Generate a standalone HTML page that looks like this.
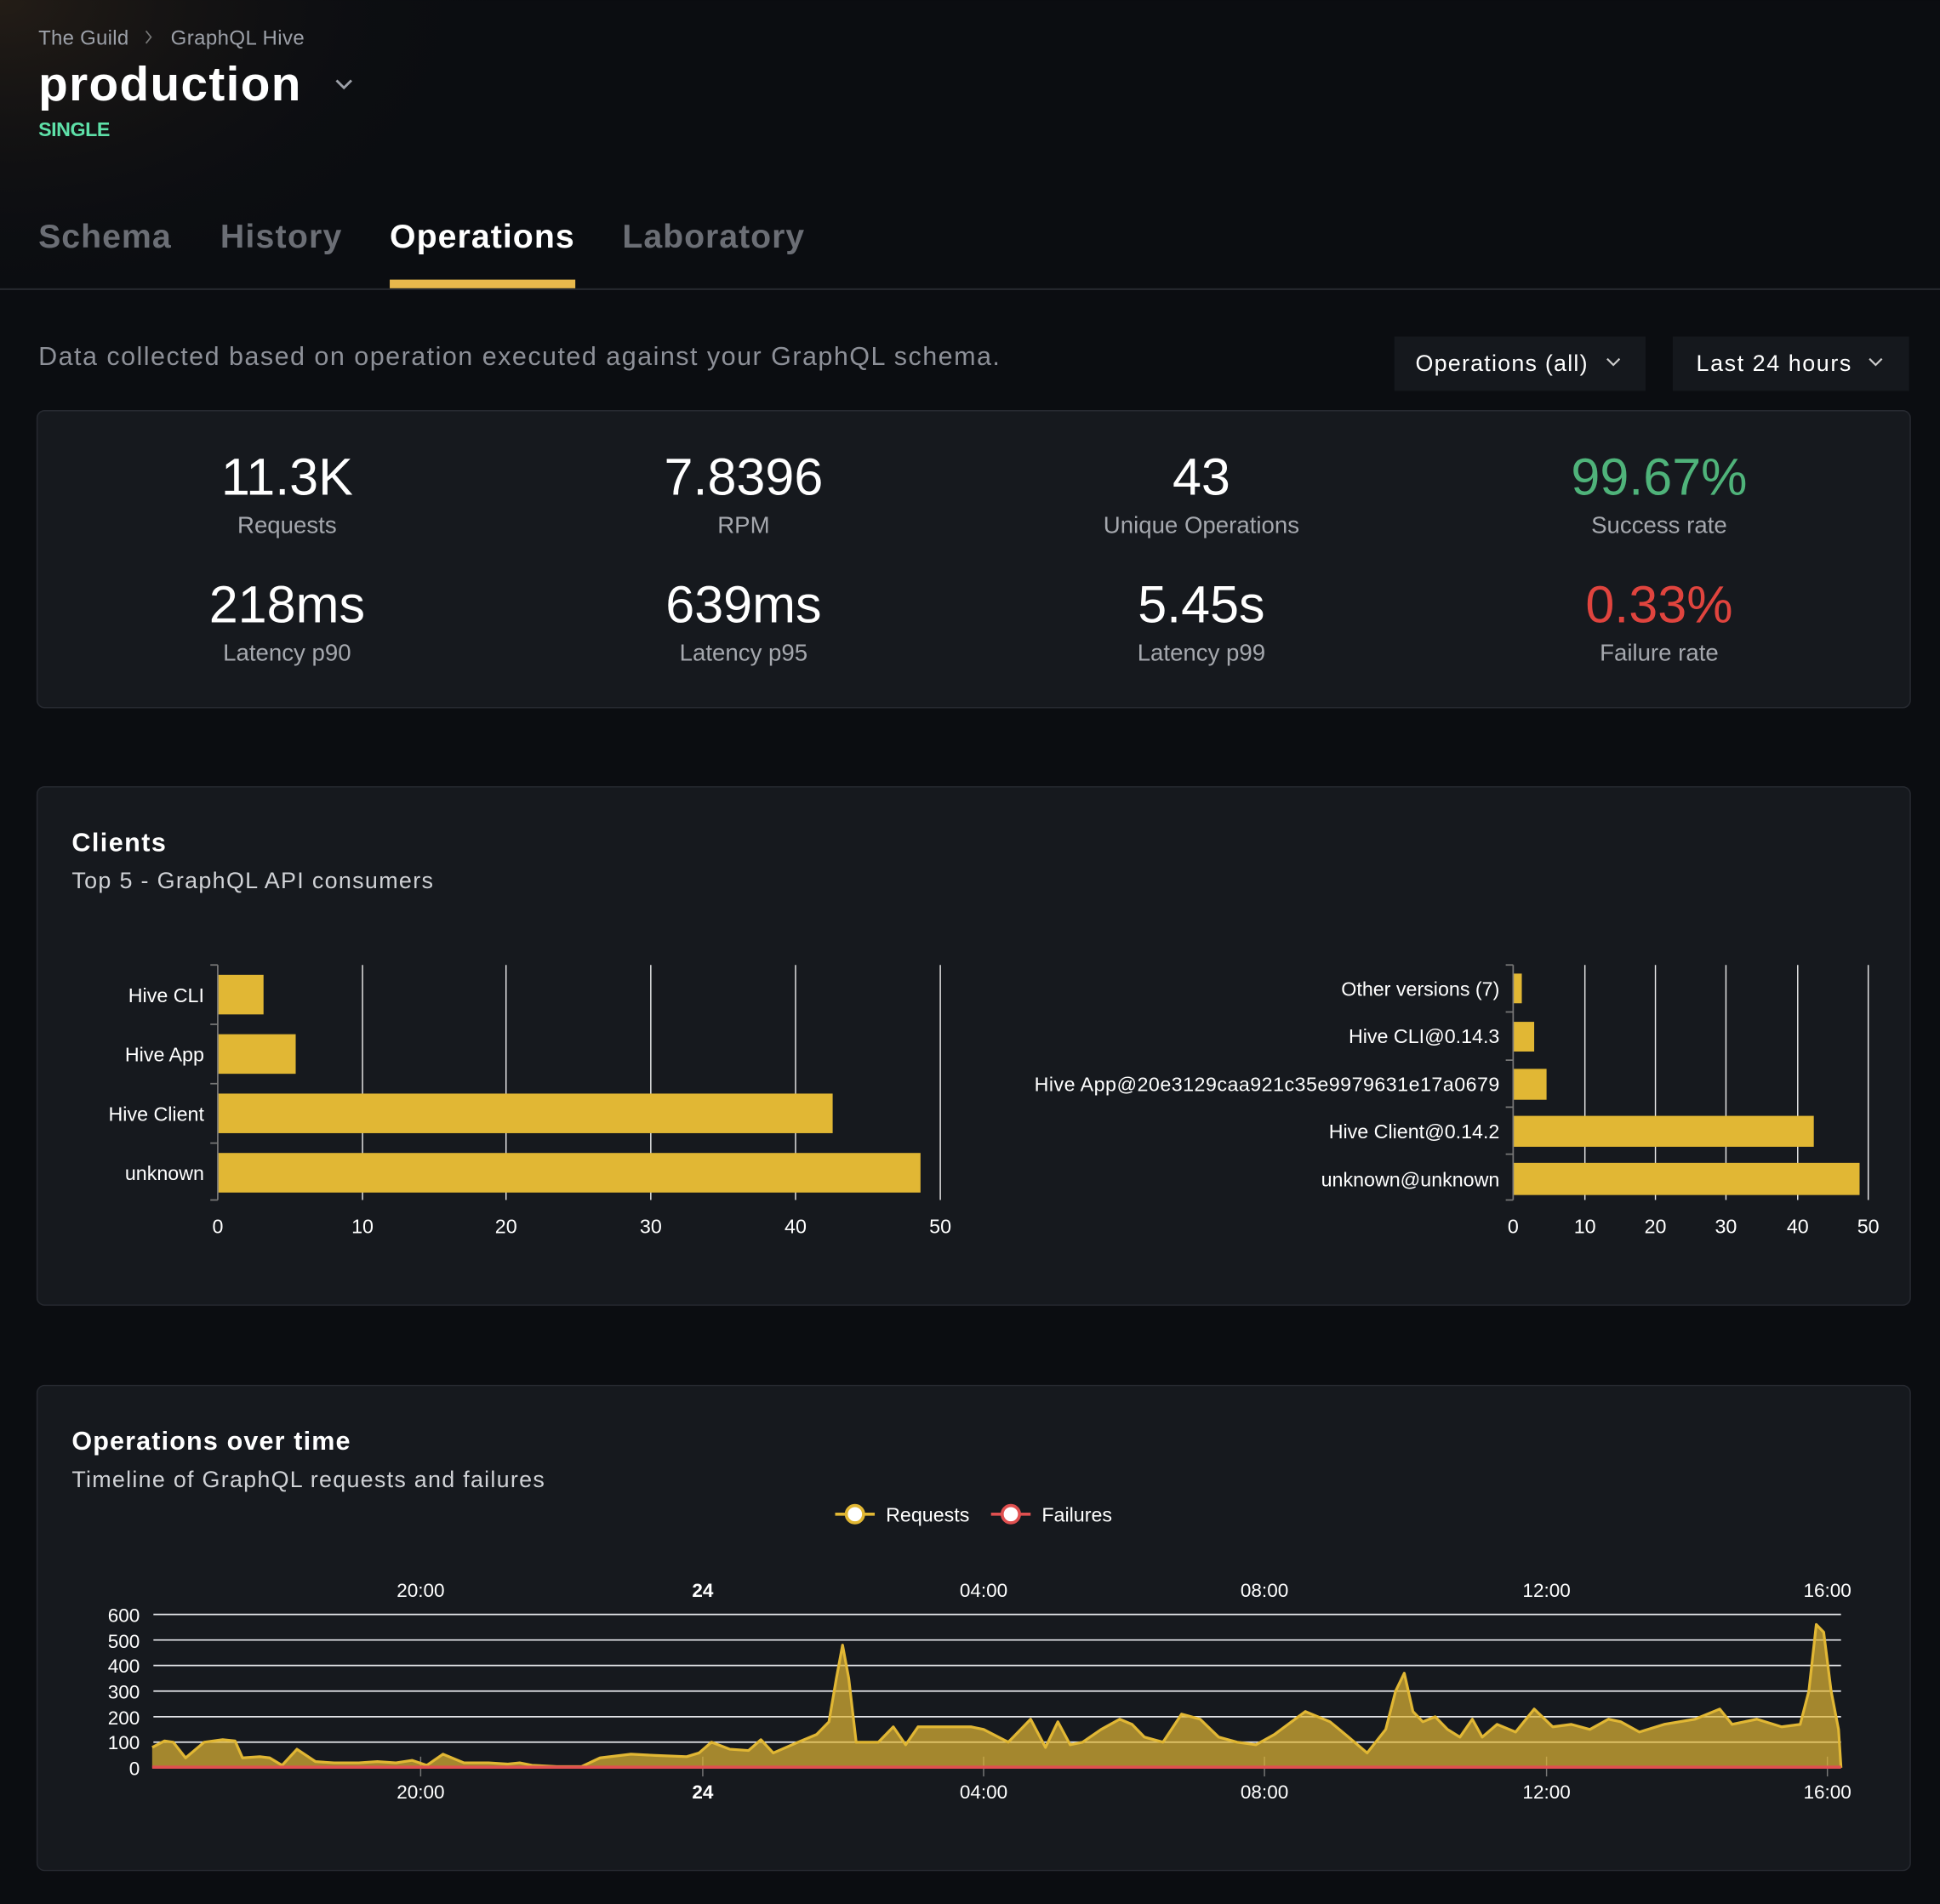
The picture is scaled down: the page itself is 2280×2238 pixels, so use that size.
<!DOCTYPE html>
<html><head><meta charset="utf-8"><style>
html,body{margin:0;padding:0;background:#0b0d11;}
svg{display:block;font-family:"Liberation Sans",sans-serif;}
</style></head><body>
<svg width="2280" height="2238" viewBox="0 0 1568 1539.1" xmlns="http://www.w3.org/2000/svg">
<defs>
<radialGradient id="glow" cx="0" cy="0" r="1">
<stop offset="0" stop-color="#2a2118" stop-opacity="0.8"/>
<stop offset="1" stop-color="#0b0d11" stop-opacity="0"/>
</radialGradient>
</defs>
<rect width="1568" height="1540" fill="#0b0d11"/>
<rect width="400" height="250" fill="url(#glow)"/>
<text x="31" y="36" font-size="16.5" fill="#9ca0a8" textLength="73">The Guild</text>
<path d="M118 25 l4 5 -4 5" stroke="#777" fill="none" stroke-width="1.2"/>
<text x="138" y="36" font-size="16.5" fill="#9ca0a8" textLength="108">GraphQL Hive</text>
<text x="31" y="81" font-size="39" font-weight="bold" fill="#fff" textLength="212">production</text>
<path d="M272 65 l6 6 6 -6" stroke="#9ca0a8" fill="none" stroke-width="2"/>
<text x="31" y="110" font-size="16" font-weight="bold" fill="#5ee0a8" textLength="58">SINGLE</text>
<text x="31" y="200" font-size="27" font-weight="bold" fill="#6b6e75" textLength="107">Schema</text>
<text x="178" y="200" font-size="27" font-weight="bold" fill="#6b6e75" textLength="98">History</text>
<text x="315" y="200" font-size="27" font-weight="bold" fill="#fff" textLength="149">Operations</text>
<text x="503" y="200" font-size="27" font-weight="bold" fill="#6b6e75" textLength="147">Laboratory</text>
<rect x="0" y="233" width="1568" height="1.5" fill="#24272d"/>
<rect x="315" y="226" width="150" height="7" fill="#e8b84c"/>
<text x="31" y="295" font-size="21" fill="#8d9098" textLength="777">Data collected based on operation executed against your GraphQL schema.</text>
<rect x="1127" y="272" width="203" height="44" fill="#15181d"/>
<text x="1144" y="300" font-size="18.5" fill="#fff" textLength="139">Operations (all)</text>
<path d="M1299 290 l5 5 5 -5" stroke="#ccc" fill="none" stroke-width="1.5"/>
<rect x="1352" y="272" width="191" height="44" fill="#15181d"/>
<text x="1371" y="300" font-size="18.5" fill="#fff" textLength="125">Last 24 hours</text>
<path d="M1511 290 l5 5 5 -5" stroke="#ccc" fill="none" stroke-width="1.5"/>

<rect x="30" y="332" width="1514" height="240" rx="6" fill="#16191e" stroke="#272a31"/>
<g text-anchor="middle">
<text x="232" y="400" font-size="42" fill="#fff">11.3K</text>
<text x="232" y="431" font-size="19" fill="#a5a8ae">Requests</text>
<text x="601" y="400" font-size="42" fill="#fff">7.8396</text>
<text x="601" y="431" font-size="19" fill="#a5a8ae">RPM</text>
<text x="971" y="400" font-size="42" fill="#fff">43</text>
<text x="971" y="431" font-size="19" fill="#a5a8ae">Unique Operations</text>
<text x="1341" y="400" font-size="42" fill="#4fb37a">99.67%</text>
<text x="1341" y="431" font-size="19" fill="#a5a8ae">Success rate</text>
<text x="232" y="503" font-size="42" fill="#fff">218ms</text>
<text x="232" y="534" font-size="19" fill="#a5a8ae">Latency p90</text>
<text x="601" y="503" font-size="42" fill="#fff">639ms</text>
<text x="601" y="534" font-size="19" fill="#a5a8ae">Latency p95</text>
<text x="971" y="503" font-size="42" fill="#fff">5.45s</text>
<text x="971" y="534" font-size="19" fill="#a5a8ae">Latency p99</text>
<text x="1341" y="503" font-size="42" fill="#e0443e">0.33%</text>
<text x="1341" y="534" font-size="19" fill="#a5a8ae">Failure rate</text>
</g>

<rect x="30" y="636" width="1514" height="419" rx="6" fill="#16191e" stroke="#272a31"/>
<text x="58" y="688" font-size="21" font-weight="bold" fill="#fff" textLength="76">Clients</text>
<text x="58" y="718" font-size="18.5" fill="#d0d2d6" textLength="292">Top 5 - GraphQL API consumers</text>
<g stroke="#e8e8e8" stroke-width="1">
<line x1="293" y1="780" x2="293" y2="970"/><line x1="409" y1="780" x2="409" y2="970"/>
<line x1="526" y1="780" x2="526" y2="970"/><line x1="643" y1="780" x2="643" y2="970"/>
<line x1="760" y1="780" x2="760" y2="970"/>
</g>
<g fill="#e1b734">
<rect x="176" y="788" width="37" height="32"/>
<rect x="176" y="836" width="63" height="32"/>
<rect x="176" y="884" width="497" height="32"/>
<rect x="176" y="932" width="568" height="32"/>
</g>
<path d="M176 780 V970 M170 780 H176 M170 828 H176 M170 876 H176 M170 924 H176 M170 970 H176" stroke="#777" stroke-width="1.2" fill="none"/>
<g font-size="16" fill="#fff" text-anchor="end">
<text x="165" y="810">Hive CLI</text><text x="165" y="858">Hive App</text>
<text x="165" y="906">Hive Client</text><text x="165" y="954">unknown</text>
</g>
<g font-size="16" fill="#fff" text-anchor="middle">
<text x="176" y="997">0</text><text x="293" y="997">10</text><text x="409" y="997">20</text>
<text x="526" y="997">30</text><text x="643" y="997">40</text><text x="760" y="997">50</text>
</g>
<g stroke="#e8e8e8" stroke-width="1">
<line x1="1281" y1="780" x2="1281" y2="970"/><line x1="1338" y1="780" x2="1338" y2="970"/>
<line x1="1395" y1="780" x2="1395" y2="970"/><line x1="1453" y1="780" x2="1453" y2="970"/>
<line x1="1510" y1="780" x2="1510" y2="970"/>
</g>
<g fill="#e1b734">
<rect x="1223" y="787" width="7" height="24"/>
<rect x="1223" y="826" width="17" height="24"/>
<rect x="1223" y="864" width="27" height="25"/>
<rect x="1223" y="902" width="243" height="25"/>
<rect x="1223" y="940" width="280" height="26"/>
</g>
<path d="M1223 780 V970 M1217 780 H1223 M1217 818 H1223 M1217 857 H1223 M1217 895 H1223 M1217 933 H1223 M1217 970 H1223" stroke="#777" stroke-width="1.2" fill="none"/>
<g font-size="16" fill="#fff" text-anchor="end">
<text x="1212" y="805">Other versions (7)</text><text x="1212" y="843">Hive CLI@0.14.3</text>
<text x="1212" y="882" textLength="376">Hive App@20e3129caa921c35e9979631e17a0679</text>
<text x="1212" y="920">Hive Client@0.14.2</text><text x="1212" y="959">unknown@unknown</text>
</g>
<g font-size="16" fill="#fff" text-anchor="middle">
<text x="1223" y="997">0</text><text x="1281" y="997">10</text><text x="1338" y="997">20</text>
<text x="1395" y="997">30</text><text x="1453" y="997">40</text><text x="1510" y="997">50</text>
</g>

<rect x="30" y="1120" width="1514" height="392" rx="6" fill="#16191e" stroke="#272a31"/>
<text x="58" y="1172" font-size="21" font-weight="bold" fill="#fff" textLength="225">Operations over time</text>
<text x="58" y="1202" font-size="18.5" fill="#d0d2d6" textLength="382">Timeline of GraphQL requests and failures</text>
<line x1="675" y1="1224" x2="707" y2="1224" stroke="#e1b734" stroke-width="2.5"/>
<circle cx="691" cy="1224" r="7" fill="#fff" stroke="#e1b734" stroke-width="2.5"/>
<text x="716" y="1230" font-size="16" fill="#fff">Requests</text>
<line x1="801" y1="1224" x2="833" y2="1224" stroke="#e05050" stroke-width="2.5"/>
<circle cx="817" cy="1224" r="7" fill="#fff" stroke="#e05050" stroke-width="2.5"/>
<text x="842" y="1230" font-size="16" fill="#fff">Failures</text>
<g font-size="15.5" fill="#fff" text-anchor="middle">
<text x="340" y="1291">20:00</text><text x="568" y="1291" font-weight="bold">24</text>
<text x="795" y="1291">04:00</text><text x="1022" y="1291">08:00</text>
<text x="1250" y="1291">12:00</text><text x="1477" y="1291">16:00</text>
<text x="340" y="1454">20:00</text><text x="568" y="1454" font-weight="bold">24</text>
<text x="795" y="1454">04:00</text><text x="1022" y="1454">08:00</text>
<text x="1250" y="1454">12:00</text><text x="1477" y="1454">16:00</text>
</g>
<g font-size="15.5" fill="#fff" text-anchor="end">
<text x="113" y="1311">600</text><text x="113" y="1332">500</text><text x="113" y="1352">400</text>
<text x="113" y="1373">300</text><text x="113" y="1394">200</text><text x="113" y="1414">100</text><text x="113" y="1435">0</text>
</g>
<g stroke="#e5e7eb" stroke-width="1.2">
<line x1="124" y1="1305" x2="1488" y2="1305"/><line x1="124" y1="1325.7" x2="1488" y2="1325.7"/>
<line x1="124" y1="1346.3" x2="1488" y2="1346.3"/><line x1="124" y1="1367" x2="1488" y2="1367"/>
<line x1="124" y1="1387.7" x2="1488" y2="1387.7"/><line x1="124" y1="1408.3" x2="1488" y2="1408.3"/>
</g>
<g stroke="#777" stroke-width="1">
<line x1="340" y1="1420" x2="340" y2="1436"/><line x1="568" y1="1420" x2="568" y2="1436"/>
<line x1="795" y1="1420" x2="795" y2="1436"/><line x1="1022" y1="1420" x2="1022" y2="1436"/>
<line x1="1250" y1="1420" x2="1250" y2="1436"/><line x1="1477" y1="1420" x2="1477" y2="1436"/>
</g>
<polygon fill="#e1b734" fill-opacity="0.7" stroke="none" points="123,1429 123,1412.5 133,1407.3 140,1408.3 150,1421 165,1408.3 180,1406.3 190,1407.3 196,1421 210,1420 218,1421 228,1427 240,1414 255,1424 270,1425 290,1425 305,1424 320,1425 333,1423 345,1427 358,1418 375,1425 395,1425 410,1426 420,1425 430,1427 450,1428 470,1428 485,1421 510,1418 530,1419 555,1420 565,1417 575,1408.3 590,1414 605,1415 615,1406.3 625,1417 645,1408.3 660,1402.1 670,1391.8 676,1356.7 681,1329.8 686,1356.7 692,1408.3 710,1408.3 722,1395.9 732,1410.4 742,1395.9 765,1395.9 785,1395.9 795,1398 815,1408.3 833,1389.7 845,1412.5 855,1391.8 865,1410.4 875,1408.3 890,1398 905,1389.7 915,1393.9 925,1404.2 940,1408.3 955,1385.6 970,1389.7 985,1404.2 1000,1408.3 1015,1410.4 1030,1402.1 1055,1383.5 1075,1391.8 1090,1404.2 1105,1417 1120,1398 1128,1367 1135,1352.5 1142,1383.5 1150,1391.8 1160,1387.7 1170,1398 1180,1404.2 1190,1389.7 1198,1404.2 1210,1393.9 1225,1400.1 1240,1381.5 1255,1395.9 1270,1393.9 1285,1398 1300,1389.7 1310,1391.8 1325,1400.1 1345,1393.9 1370,1389.7 1390,1381.5 1400,1393.9 1420,1389.7 1440,1395.9 1455,1393.9 1462,1367 1468,1313.2 1474,1319.4 1480,1367 1486,1398 1488,1429"/>
<polyline fill="none" stroke="#e1b734" stroke-width="2.2" stroke-linejoin="round" points="123,1412.5 133,1407.3 140,1408.3 150,1421 165,1408.3 180,1406.3 190,1407.3 196,1421 210,1420 218,1421 228,1427 240,1414 255,1424 270,1425 290,1425 305,1424 320,1425 333,1423 345,1427 358,1418 375,1425 395,1425 410,1426 420,1425 430,1427 450,1428 470,1428 485,1421 510,1418 530,1419 555,1420 565,1417 575,1408.3 590,1414 605,1415 615,1406.3 625,1417 645,1408.3 660,1402.1 670,1391.8 676,1356.7 681,1329.8 686,1356.7 692,1408.3 710,1408.3 722,1395.9 732,1410.4 742,1395.9 765,1395.9 785,1395.9 795,1398 815,1408.3 833,1389.7 845,1412.5 855,1391.8 865,1410.4 875,1408.3 890,1398 905,1389.7 915,1393.9 925,1404.2 940,1408.3 955,1385.6 970,1389.7 985,1404.2 1000,1408.3 1015,1410.4 1030,1402.1 1055,1383.5 1075,1391.8 1090,1404.2 1105,1417 1120,1398 1128,1367 1135,1352.5 1142,1383.5 1150,1391.8 1160,1387.7 1170,1398 1180,1404.2 1190,1389.7 1198,1404.2 1210,1393.9 1225,1400.1 1240,1381.5 1255,1395.9 1270,1393.9 1285,1398 1300,1389.7 1310,1391.8 1325,1400.1 1345,1393.9 1370,1389.7 1390,1381.5 1400,1393.9 1420,1389.7 1440,1395.9 1455,1393.9 1462,1367 1468,1313.2 1474,1319.4 1480,1367 1486,1398 1488,1429"/>
<line x1="123" y1="1428.5" x2="1488" y2="1428.5" stroke="#e05050" stroke-width="2.5"/>
</svg>
</body></html>
